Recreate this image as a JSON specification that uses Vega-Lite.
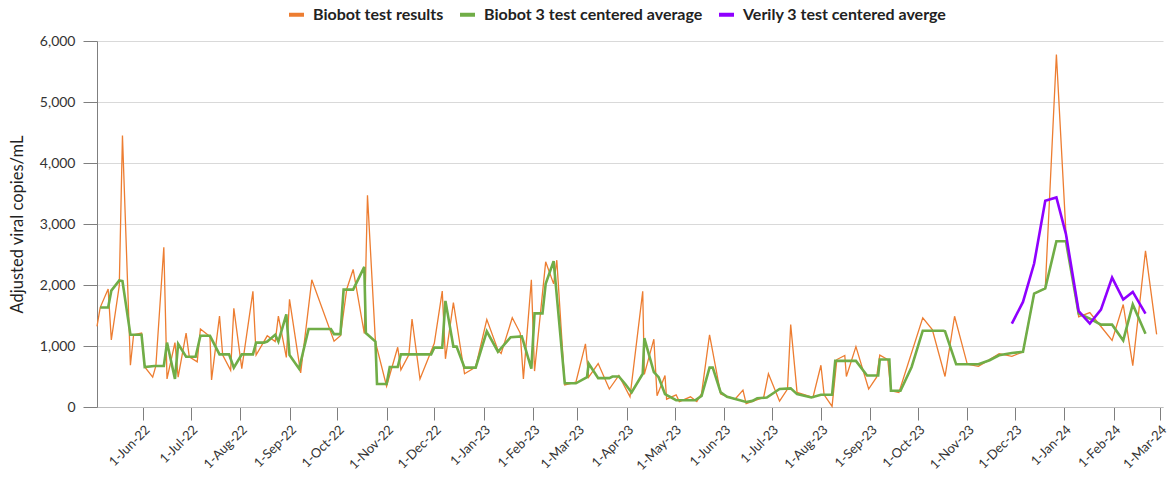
{
  "$schema": "https://vega.github.io/schema/vega-lite/v6.json",
  "width": 1066,
  "height": 366,
  "autosize": {"type": "none"},
  "padding": {"left": 97, "top": 41, "right": 7, "bottom": 73},
  "background": "white",
  "config": {
    "font": "Lato",
    "view": {"stroke": null},
    "axis": {"labelFont": "Lato", "titleFont": "Lato", "labelColor": "#333333", "titleColor": "#222222"}
  },
  "datasets": {
    "orange": [
      {"d": "2022-05-03T00:00:00", "v": 1320}, {"d": "2022-05-05T00:00:00", "v": 1630}, {"d": "2022-05-10T00:00:00", "v": 1935},
      {"d": "2022-05-12T00:00:00", "v": 1100}, {"d": "2022-05-17T00:00:00", "v": 1990}, {"d": "2022-05-19T00:00:00", "v": 4450},
      {"d": "2022-05-24T00:00:00", "v": 684}, {"d": "2022-05-26T00:00:00", "v": 1184}, {"d": "2022-05-31T00:00:00", "v": 1212},
      {"d": "2022-06-02T00:00:00", "v": 656}, {"d": "2022-06-07T00:00:00", "v": 489}, {"d": "2022-06-09T00:00:00", "v": 673},
      {"d": "2022-06-14T00:00:00", "v": 2620}, {"d": "2022-06-16T00:00:00", "v": 461}, {"d": "2022-06-21T00:00:00", "v": 1056},
      {"d": "2022-06-23T00:00:00", "v": 489}, {"d": "2022-06-28T00:00:00", "v": 1212}, {"d": "2022-06-30T00:00:00", "v": 823},
      {"d": "2022-07-05T00:00:00", "v": 740}, {"d": "2022-07-07T00:00:00", "v": 1279}, {"d": "2022-07-13T00:00:00", "v": 1156},
      {"d": "2022-07-14T00:00:00", "v": 445}, {"d": "2022-07-19T00:00:00", "v": 1490}, {"d": "2022-07-21T00:00:00", "v": 851},
      {"d": "2022-07-26T00:00:00", "v": 600}, {"d": "2022-07-28T00:00:00", "v": 1618}, {"d": "2022-08-02T00:00:00", "v": 628},
      {"d": "2022-08-09T00:00:00", "v": 1896}, {"d": "2022-08-11T00:00:00", "v": 851}, {"d": "2022-08-18T00:00:00", "v": 1167},
      {"d": "2022-08-23T00:00:00", "v": 1073}, {"d": "2022-08-25T00:00:00", "v": 1490}, {"d": "2022-08-30T00:00:00", "v": 812},
      {"d": "2022-09-01T00:00:00", "v": 1765}, {"d": "2022-09-08T00:00:00", "v": 560}, {"d": "2022-09-15T00:00:00", "v": 2085},
      {"d": "2022-09-29T00:00:00", "v": 1078}, {"d": "2022-10-03T00:00:00", "v": 1170}, {"d": "2022-10-07T00:00:00", "v": 1935},
      {"d": "2022-10-11T00:00:00", "v": 2255}, {"d": "2022-10-18T00:00:00", "v": 1205}, {"d": "2022-10-20T00:00:00", "v": 3470},
      {"d": "2022-10-25T00:00:00", "v": 1068}, {"d": "2022-11-01T00:00:00", "v": 340}, {"d": "2022-11-08T00:00:00", "v": 979},
      {"d": "2022-11-10T00:00:00", "v": 608}, {"d": "2022-11-15T00:00:00", "v": 855}, {"d": "2022-11-17T00:00:00", "v": 1440},
      {"d": "2022-11-22T00:00:00", "v": 459}, {"d": "2022-12-01T00:00:00", "v": 1045}, {"d": "2022-12-06T00:00:00", "v": 1900},
      {"d": "2022-12-08T00:00:00", "v": 790}, {"d": "2022-12-13T00:00:00", "v": 1710}, {"d": "2022-12-20T00:00:00", "v": 545},
      {"d": "2022-12-27T00:00:00", "v": 656}, {"d": "2023-01-03T00:00:00", "v": 1434}, {"d": "2023-01-10T00:00:00", "v": 934},
      {"d": "2023-01-12T00:00:00", "v": 878}, {"d": "2023-01-19T00:00:00", "v": 1462}, {"d": "2023-01-24T00:00:00", "v": 1212},
      {"d": "2023-01-26T00:00:00", "v": 461}, {"d": "2023-01-31T00:00:00", "v": 2085}, {"d": "2023-02-02T00:00:00", "v": 589},
      {"d": "2023-02-09T00:00:00", "v": 2380}, {"d": "2023-02-14T00:00:00", "v": 2018}, {"d": "2023-02-16T00:00:00", "v": 2407},
      {"d": "2023-02-21T00:00:00", "v": 361}, {"d": "2023-02-28T00:00:00", "v": 406}, {"d": "2023-03-06T00:00:00", "v": 1034},
      {"d": "2023-03-08T00:00:00", "v": 489}, {"d": "2023-03-14T00:00:00", "v": 712}, {"d": "2023-03-21T00:00:00", "v": 295},
      {"d": "2023-03-27T00:00:00", "v": 517}, {"d": "2023-04-03T00:00:00", "v": 167}, {"d": "2023-04-11T00:00:00", "v": 1896},
      {"d": "2023-04-12T00:00:00", "v": 534}, {"d": "2023-04-18T00:00:00", "v": 1112}, {"d": "2023-04-20T00:00:00", "v": 183},
      {"d": "2023-04-25T00:00:00", "v": 517}, {"d": "2023-04-26T00:00:00", "v": 128}, {"d": "2023-05-02T00:00:00", "v": 200},
      {"d": "2023-05-04T00:00:00", "v": 89}, {"d": "2023-05-11T00:00:00", "v": 167}, {"d": "2023-05-15T00:00:00", "v": 89},
      {"d": "2023-05-18T00:00:00", "v": 222}, {"d": "2023-05-23T00:00:00", "v": 1184}, {"d": "2023-05-30T00:00:00", "v": 211},
      {"d": "2023-06-08T00:00:00", "v": 128}, {"d": "2023-06-13T00:00:00", "v": 278}, {"d": "2023-06-15T00:00:00", "v": 56},
      {"d": "2023-06-26T00:00:00", "v": 156}, {"d": "2023-06-29T00:00:00", "v": 545}, {"d": "2023-07-06T00:00:00", "v": 95},
      {"d": "2023-07-11T00:00:00", "v": 295}, {"d": "2023-07-13T00:00:00", "v": 1351}, {"d": "2023-07-17T00:00:00", "v": 239},
      {"d": "2023-07-27T00:00:00", "v": 156}, {"d": "2023-08-01T00:00:00", "v": 684}, {"d": "2023-08-03T00:00:00", "v": 200},
      {"d": "2023-08-08T00:00:00", "v": 10}, {"d": "2023-08-11T00:00:00", "v": 778}, {"d": "2023-08-16T00:00:00", "v": 845},
      {"d": "2023-08-17T00:00:00", "v": 500}, {"d": "2023-08-23T00:00:00", "v": 990}, {"d": "2023-08-31T00:00:00", "v": 295},
      {"d": "2023-09-05T00:00:00", "v": 489}, {"d": "2023-09-07T00:00:00", "v": 851}, {"d": "2023-09-12T00:00:00", "v": 778},
      {"d": "2023-09-14T00:00:00", "v": 267}, {"d": "2023-09-19T00:00:00", "v": 239}, {"d": "2023-10-04T00:00:00", "v": 1462},
      {"d": "2023-10-10T00:00:00", "v": 1268}, {"d": "2023-10-18T00:00:00", "v": 500}, {"d": "2023-10-24T00:00:00", "v": 1488},
      {"d": "2023-11-01T00:00:00", "v": 700}, {"d": "2023-11-08T00:00:00", "v": 667}, {"d": "2023-11-15T00:00:00", "v": 777},
      {"d": "2023-11-21T00:00:00", "v": 875}, {"d": "2023-11-29T00:00:00", "v": 831}, {"d": "2023-12-06T00:00:00", "v": 903},
      {"d": "2023-12-13T00:00:00", "v": 1860}, {"d": "2023-12-20T00:00:00", "v": 1942}, {"d": "2023-12-27T00:00:00", "v": 5780},
      {"d": "2024-01-02T00:00:00", "v": 2850}, {"d": "2024-01-10T00:00:00", "v": 1477}, {"d": "2024-01-17T00:00:00", "v": 1548},
      {"d": "2024-01-24T00:00:00", "v": 1320}, {"d": "2024-01-31T00:00:00", "v": 1091}, {"d": "2024-02-07T00:00:00", "v": 1680},
      {"d": "2024-02-13T00:00:00", "v": 678}, {"d": "2024-02-21T00:00:00", "v": 2562}, {"d": "2024-02-28T00:00:00", "v": 1190}
    ],
    "green": [
      {"d": "2022-05-05T00:00:00", "v": 1630}, {"d": "2022-05-10T00:00:00", "v": 1630}, {"d": "2022-05-12T00:00:00", "v": 1907},
      {"d": "2022-05-17T00:00:00", "v": 2074}, {"d": "2022-05-19T00:00:00", "v": 2063}, {"d": "2022-05-24T00:00:00", "v": 1184},
      {"d": "2022-05-31T00:00:00", "v": 1184}, {"d": "2022-06-02T00:00:00", "v": 656}, {"d": "2022-06-08T00:00:00", "v": 673},
      {"d": "2022-06-14T00:00:00", "v": 673}, {"d": "2022-06-16T00:00:00", "v": 1056}, {"d": "2022-06-21T00:00:00", "v": 461},
      {"d": "2022-06-23T00:00:00", "v": 1034}, {"d": "2022-06-28T00:00:00", "v": 823}, {"d": "2022-07-04T00:00:00", "v": 823},
      {"d": "2022-07-07T00:00:00", "v": 1167}, {"d": "2022-07-13T00:00:00", "v": 1167}, {"d": "2022-07-19T00:00:00", "v": 862},
      {"d": "2022-07-25T00:00:00", "v": 862}, {"d": "2022-07-28T00:00:00", "v": 645}, {"d": "2022-08-02T00:00:00", "v": 862},
      {"d": "2022-08-09T00:00:00", "v": 862}, {"d": "2022-08-11T00:00:00", "v": 1056}, {"d": "2022-08-16T00:00:00", "v": 1056},
      {"d": "2022-08-18T00:00:00", "v": 1073}, {"d": "2022-08-23T00:00:00", "v": 1184}, {"d": "2022-08-25T00:00:00", "v": 1073},
      {"d": "2022-08-30T00:00:00", "v": 1518}, {"d": "2022-09-01T00:00:00", "v": 851}, {"d": "2022-09-07T00:00:00", "v": 628},
      {"d": "2022-09-13T00:00:00", "v": 1279}, {"d": "2022-09-27T00:00:00", "v": 1279}, {"d": "2022-09-29T00:00:00", "v": 1195},
      {"d": "2022-10-03T00:00:00", "v": 1195}, {"d": "2022-10-05T00:00:00", "v": 1924}, {"d": "2022-10-11T00:00:00", "v": 1924},
      {"d": "2022-10-18T00:00:00", "v": 2296}, {"d": "2022-10-19T00:00:00", "v": 1212}, {"d": "2022-10-25T00:00:00", "v": 1073},
      {"d": "2022-10-26T00:00:00", "v": 378}, {"d": "2022-11-01T00:00:00", "v": 378}, {"d": "2022-11-03T00:00:00", "v": 656},
      {"d": "2022-11-08T00:00:00", "v": 656}, {"d": "2022-11-10T00:00:00", "v": 862}, {"d": "2022-11-29T00:00:00", "v": 862},
      {"d": "2022-12-01T00:00:00", "v": 973}, {"d": "2022-12-06T00:00:00", "v": 973}, {"d": "2022-12-08T00:00:00", "v": 1740},
      {"d": "2022-12-13T00:00:00", "v": 990}, {"d": "2022-12-15T00:00:00", "v": 990}, {"d": "2022-12-20T00:00:00", "v": 645},
      {"d": "2022-12-27T00:00:00", "v": 645}, {"d": "2023-01-03T00:00:00", "v": 1240}, {"d": "2023-01-10T00:00:00", "v": 906},
      {"d": "2023-01-18T00:00:00", "v": 1145}, {"d": "2023-01-25T00:00:00", "v": 1156}, {"d": "2023-01-31T00:00:00", "v": 628},
      {"d": "2023-02-02T00:00:00", "v": 1535}, {"d": "2023-02-07T00:00:00", "v": 1535}, {"d": "2023-02-09T00:00:00", "v": 2018},
      {"d": "2023-02-14T00:00:00", "v": 2391}, {"d": "2023-02-21T00:00:00", "v": 389}, {"d": "2023-02-28T00:00:00", "v": 389},
      {"d": "2023-03-07T00:00:00", "v": 489}, {"d": "2023-03-08T00:00:00", "v": 712}, {"d": "2023-03-14T00:00:00", "v": 473},
      {"d": "2023-03-21T00:00:00", "v": 473}, {"d": "2023-03-23T00:00:00", "v": 500}, {"d": "2023-03-27T00:00:00", "v": 500},
      {"d": "2023-03-31T00:00:00", "v": 378}, {"d": "2023-04-04T00:00:00", "v": 239}, {"d": "2023-04-11T00:00:00", "v": 545},
      {"d": "2023-04-12T00:00:00", "v": 1128}, {"d": "2023-04-18T00:00:00", "v": 573}, {"d": "2023-04-21T00:00:00", "v": 489},
      {"d": "2023-04-25T00:00:00", "v": 211}, {"d": "2023-05-02T00:00:00", "v": 111}, {"d": "2023-05-14T00:00:00", "v": 111},
      {"d": "2023-05-18T00:00:00", "v": 183}, {"d": "2023-05-23T00:00:00", "v": 645}, {"d": "2023-05-25T00:00:00", "v": 645},
      {"d": "2023-05-30T00:00:00", "v": 239}, {"d": "2023-06-03T00:00:00", "v": 167}, {"d": "2023-06-07T00:00:00", "v": 139},
      {"d": "2023-06-15T00:00:00", "v": 83}, {"d": "2023-06-19T00:00:00", "v": 100}, {"d": "2023-06-22T00:00:00", "v": 145},
      {"d": "2023-06-28T00:00:00", "v": 156}, {"d": "2023-07-06T00:00:00", "v": 295}, {"d": "2023-07-13T00:00:00", "v": 306},
      {"d": "2023-07-17T00:00:00", "v": 211}, {"d": "2023-07-26T00:00:00", "v": 156}, {"d": "2023-08-01T00:00:00", "v": 200},
      {"d": "2023-08-08T00:00:00", "v": 200}, {"d": "2023-08-10T00:00:00", "v": 756}, {"d": "2023-08-23T00:00:00", "v": 756},
      {"d": "2023-08-30T00:00:00", "v": 517}, {"d": "2023-09-06T00:00:00", "v": 517}, {"d": "2023-09-07T00:00:00", "v": 778},
      {"d": "2023-09-13T00:00:00", "v": 778}, {"d": "2023-09-14T00:00:00", "v": 267}, {"d": "2023-09-20T00:00:00", "v": 267},
      {"d": "2023-09-27T00:00:00", "v": 656}, {"d": "2023-10-04T00:00:00", "v": 1251}, {"d": "2023-10-17T00:00:00", "v": 1251},
      {"d": "2023-10-18T00:00:00", "v": 1242}, {"d": "2023-10-25T00:00:00", "v": 700}, {"d": "2023-11-08T00:00:00", "v": 700},
      {"d": "2023-11-15T00:00:00", "v": 766}, {"d": "2023-11-21T00:00:00", "v": 848}, {"d": "2023-11-29T00:00:00", "v": 886},
      {"d": "2023-12-06T00:00:00", "v": 903}, {"d": "2023-12-13T00:00:00", "v": 1860}, {"d": "2023-12-20T00:00:00", "v": 1945},
      {"d": "2023-12-27T00:00:00", "v": 2716}, {"d": "2024-01-02T00:00:00", "v": 2716}, {"d": "2024-01-10T00:00:00", "v": 1532},
      {"d": "2024-01-17T00:00:00", "v": 1449}, {"d": "2024-01-24T00:00:00", "v": 1350}, {"d": "2024-01-31T00:00:00", "v": 1350},
      {"d": "2024-02-07T00:00:00", "v": 1091}, {"d": "2024-02-13T00:00:00", "v": 1680}, {"d": "2024-02-21T00:00:00", "v": 1201}
    ],
    "purple": [
      {"d": "2023-11-29T00:00:00", "v": 1368}, {"d": "2023-12-06T00:00:00", "v": 1723}, {"d": "2023-12-13T00:00:00", "v": 2352},
      {"d": "2023-12-20T00:00:00", "v": 3381}, {"d": "2023-12-27T00:00:00", "v": 3435}, {"d": "2024-01-02T00:00:00", "v": 2834},
      {"d": "2024-01-10T00:00:00", "v": 1570}, {"d": "2024-01-17T00:00:00", "v": 1368}, {"d": "2024-01-24T00:00:00", "v": 1597},
      {"d": "2024-01-31T00:00:00", "v": 2122}, {"d": "2024-02-07T00:00:00", "v": 1761}, {"d": "2024-02-13T00:00:00", "v": 1887},
      {"d": "2024-02-21T00:00:00", "v": 1532}
    ]
  },
  "encoding": {
    "x": {
      "field": "d", "type": "temporal",
      "scale": {"domain": ["2022-05-03T00:00:00", "2024-03-03T00:00:00"]},
      "axis": {
        "title": null, "format": "%-d-%b-%y", "labelAngle": -45, "labelFontSize": 13,
        "tickCount": {"interval": "month", "step": 1}, "grid": false,
        "domainColor": "#bfbfbf", "tickColor": "#7f7f7f", "tickSize": 13, "labelPadding": 3, "labelOverlap": false
      }
    },
    "y": {
      "field": "v", "type": "quantitative",
      "scale": {"domain": [0, 6000], "nice": false},
      "axis": {
        "title": "Adjusted viral copies/mL", "titleFontSize": 16.5, "titleFontWeight": "normal",
        "values": [0, 1000, 2000, 3000, 4000, 5000, 6000], "format": ",.0f", "labelFontSize": 14,
        "gridColor": "#d9d9d9", "domainColor": "#7f7f7f", "tickColor": "#7f7f7f", "tickSize": 14,
        "labelPadding": 8, "titlePadding": 14
      }
    },
    "color": {
      "scale": {
        "domain": ["Biobot test results", "Biobot 3 test centered average", "Verily 3 test centered averge"],
        "range": ["#ED7D31", "#70AD47", "#8F00FF"]
      },
      "legend": {
        "title": null, "orient": "none", "direction": "horizontal", "legendX": 190, "legendY": -36,
        "symbolType": "stroke", "symbolStrokeWidth": 4, "symbolSize": 225, "labelLimit": 0, "labelOffset": 7,
        "labelFontSize": 16, "labelFontWeight": "bold", "labelColor": "#222222", "columnPadding": 8
      }
    }
  },
  "layer": [
    {
      "data": {"name": "orange"},
      "mark": {"type": "line", "strokeWidth": 1.3},
      "encoding": {"color": {"datum": "Biobot test results"}}
    },
    {
      "data": {"name": "green"},
      "mark": {"type": "line", "strokeWidth": 2.6},
      "encoding": {"color": {"datum": "Biobot 3 test centered average"}}
    },
    {
      "data": {"name": "purple"},
      "mark": {"type": "line", "strokeWidth": 2.6},
      "encoding": {"color": {"datum": "Verily 3 test centered averge"}}
    }
  ]
}
